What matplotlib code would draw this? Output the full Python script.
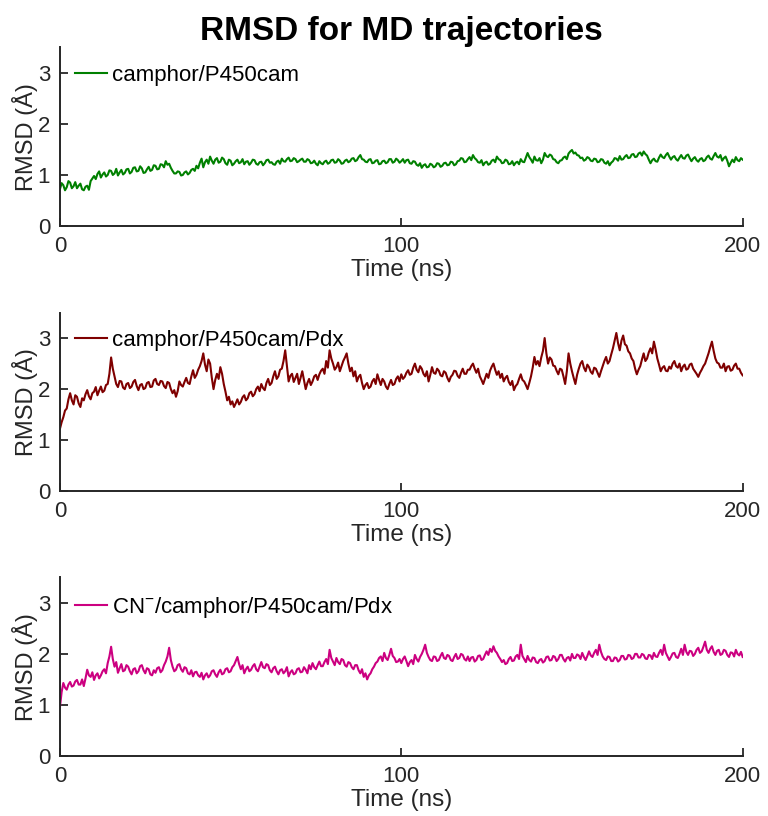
import numpy as np
import matplotlib
matplotlib.use("Agg")
import matplotlib.pyplot as plt

plt.rcParams['font.family'] = ['Liberation Sans', 'DejaVu Sans']
plt.rcParams['mathtext.fontset'] = 'custom'
plt.rcParams['mathtext.rm'] = 'Liberation Sans'
plt.rcParams['mathtext.default'] = 'regular'

# RMSD values (Angstrom), two samples per ns
rmsd_p450 = [
    0.72, 0.84, 0.80, 0.70, 0.76, 0.88, 0.85, 0.74, 0.78, 0.86,
    0.74, 0.79, 0.83, 0.72, 0.70, 0.77, 0.79, 0.71, 0.88, 0.93,
    0.98, 0.92, 1.02, 1.07, 0.95, 1.01, 1.05, 0.97, 1.00, 1.09,
    1.08, 1.00, 1.03, 1.12, 0.99, 1.05, 1.10, 1.01, 1.04, 1.11,
    1.12, 1.03, 1.06, 1.14, 1.15, 1.07, 1.08, 1.17, 1.13, 1.04,
    1.05, 1.11, 1.16, 1.08, 1.10, 1.19, 1.18, 1.11, 1.12, 1.21,
    1.20, 1.15, 1.27, 1.20, 1.22, 1.14, 1.08, 1.03, 1.03, 1.07,
    1.06, 0.99, 1.00, 1.05, 1.07, 1.01, 1.04, 1.10, 1.12, 1.08,
    1.18, 1.13, 1.24, 1.32, 1.15, 1.25, 1.30, 1.22, 1.36, 1.28,
    1.22, 1.30, 1.33, 1.24, 1.26, 1.34, 1.31, 1.23, 1.20, 1.30,
    1.28, 1.19, 1.22, 1.27, 1.30, 1.23, 1.25, 1.31, 1.21, 1.26,
    1.27, 1.20, 1.24, 1.30, 1.29, 1.22, 1.20, 1.25, 1.26, 1.19,
    1.23, 1.29, 1.30, 1.24, 1.25, 1.21, 1.20, 1.26, 1.28, 1.22,
    1.32, 1.27, 1.26, 1.31, 1.34, 1.27, 1.28, 1.33, 1.31, 1.25,
    1.27, 1.30, 1.32, 1.26, 1.26, 1.31, 1.29, 1.23, 1.24, 1.28,
    1.22, 1.19, 1.27, 1.23, 1.21, 1.26, 1.28, 1.22, 1.24, 1.29,
    1.30, 1.24, 1.25, 1.31, 1.28, 1.22, 1.23, 1.28, 1.30, 1.25,
    1.27, 1.32, 1.33, 1.27, 1.29, 1.35, 1.39, 1.31, 1.30, 1.26,
    1.25, 1.30, 1.31, 1.23, 1.24, 1.28, 1.29, 1.21, 1.22, 1.27,
    1.28, 1.23, 1.25, 1.31, 1.31, 1.24, 1.26, 1.32, 1.29, 1.24,
    1.27, 1.31, 1.24, 1.29, 1.30, 1.23, 1.22, 1.27, 1.26, 1.20,
    1.18, 1.23, 1.14, 1.19, 1.21, 1.15, 1.16, 1.22, 1.20, 1.15,
    1.17, 1.23, 1.22, 1.16, 1.18, 1.23, 1.24, 1.19, 1.20, 1.26,
    1.25, 1.19, 1.21, 1.27, 1.28, 1.33, 1.32, 1.25, 1.26, 1.31,
    1.35, 1.29, 1.39, 1.33, 1.30, 1.25, 1.24, 1.29, 1.19, 1.24,
    1.26, 1.20, 1.22, 1.28, 1.30, 1.25, 1.36, 1.31, 1.29, 1.23,
    1.24, 1.30, 1.28, 1.21, 1.22, 1.27, 1.19, 1.24, 1.26, 1.21,
    1.31, 1.26, 1.25, 1.34, 1.43, 1.35, 1.30, 1.24, 1.36, 1.29,
    1.28, 1.33, 1.23, 1.30, 1.43, 1.37, 1.35, 1.40, 1.38, 1.31,
    1.30, 1.25, 1.23, 1.28, 1.29, 1.34, 1.36, 1.31, 1.42, 1.46,
    1.49, 1.42, 1.44, 1.39, 1.38, 1.33, 1.34, 1.28, 1.30, 1.35,
    1.33, 1.28, 1.27, 1.32, 1.31, 1.25, 1.26, 1.31, 1.30, 1.24,
    1.22, 1.27, 1.19, 1.24, 1.27, 1.33, 1.32, 1.28, 1.37, 1.30,
    1.31, 1.36, 1.39, 1.33, 1.34, 1.40, 1.41, 1.35, 1.36, 1.42,
    1.44, 1.38, 1.46, 1.41, 1.38, 1.30, 1.23, 1.29, 1.32, 1.27,
    1.26, 1.34, 1.40, 1.35, 1.33, 1.39, 1.43, 1.36, 1.30, 1.35,
    1.37, 1.31, 1.28, 1.34, 1.39, 1.33, 1.32, 1.38, 1.40, 1.33,
    1.27, 1.32, 1.35, 1.29, 1.26, 1.31, 1.33, 1.27, 1.29, 1.35,
    1.38, 1.32, 1.30, 1.37, 1.43, 1.36, 1.34, 1.39, 1.28, 1.33,
    1.36, 1.28, 1.17, 1.24, 1.30, 1.25, 1.35, 1.29, 1.27, 1.33,
    1.30,
]

rmsd_pdx = [
    1.22, 1.35, 1.45, 1.58, 1.62, 1.80, 1.92, 1.78, 1.70, 1.88,
    1.85, 1.72, 1.65, 1.82, 1.78, 1.90, 1.98, 1.86, 1.80, 1.92,
    1.95, 2.04, 1.88, 1.97, 2.05, 1.94, 1.97, 2.08, 2.10, 2.30,
    2.62, 2.40, 2.25, 2.10, 2.04, 2.16, 2.15, 2.03, 2.00, 2.10,
    2.12, 2.02, 2.05, 2.14, 2.18, 2.06, 1.98, 2.08, 2.10, 2.00,
    2.02, 2.12, 2.14, 2.04, 2.05, 2.17, 2.20, 2.10, 2.08, 2.16,
    2.15, 2.06, 2.02, 2.14, 2.12, 2.00, 1.92, 1.98, 1.85, 1.96,
    2.15, 2.08, 2.05, 2.14, 2.22, 2.12, 2.10, 2.25, 2.37, 2.22,
    2.28, 2.38, 2.45, 2.55, 2.70, 2.48, 2.35, 2.58, 2.50, 2.22,
    2.00, 2.18, 2.30, 2.20, 2.43, 2.30, 2.10, 1.95, 1.78, 1.85,
    1.70, 1.76, 1.65, 1.72, 1.80, 1.70, 1.75, 1.84, 1.88, 1.78,
    1.82, 1.92, 1.95, 1.86, 1.90, 2.00, 2.05, 1.96, 2.10, 2.02,
    1.98, 2.12, 2.20, 2.08, 2.12, 2.25, 2.35, 2.20, 2.25, 2.38,
    2.40, 2.55, 2.76, 2.45, 2.15, 2.26, 2.30, 2.14, 2.22, 2.30,
    2.10, 2.22, 2.35, 2.18, 2.00, 2.12, 2.20, 2.08, 2.15, 2.25,
    2.28, 2.18, 2.29, 2.36, 2.40, 2.30, 2.55, 2.42, 2.76, 2.60,
    2.50, 2.38, 2.43, 2.52, 2.35, 2.45, 2.55, 2.62, 2.70, 2.50,
    2.35, 2.42, 2.25, 2.35, 2.15, 2.24, 2.28, 2.12, 2.00, 2.08,
    2.12, 2.02, 2.05, 2.15, 2.20, 2.10, 2.29, 2.18, 2.08, 2.20,
    2.15, 2.05, 2.00, 2.10, 2.18, 2.08, 2.10, 2.20, 2.25, 2.15,
    2.29, 2.20, 2.24, 2.32, 2.37, 2.28, 2.30, 2.42, 2.50, 2.38,
    2.33, 2.45, 2.40, 2.30, 2.25, 2.35, 2.15, 2.28, 2.43, 2.32,
    2.30, 2.40, 2.36, 2.27, 2.25, 2.35, 2.32, 2.22, 2.15, 2.24,
    2.28, 2.36, 2.35, 2.26, 2.22, 2.32, 2.40, 2.30, 2.30, 2.38,
    2.38, 2.45, 2.50, 2.40, 2.32, 2.40, 2.25, 2.18, 2.10, 2.20,
    2.30, 2.22, 2.36, 2.44, 2.50, 2.38, 2.28, 2.35, 2.22, 2.30,
    2.15, 2.22, 2.26, 2.14, 2.08, 2.16, 1.98, 2.06, 2.10, 2.20,
    2.29, 2.18, 2.15, 2.08, 2.00, 2.12, 2.25, 2.42, 2.63, 2.48,
    2.55, 2.45, 2.62, 2.75, 3.00, 2.70, 2.50, 2.62, 2.58, 2.46,
    2.45, 2.36, 2.29, 2.40, 2.38, 2.25, 2.10, 2.35, 2.70, 2.50,
    2.35, 2.22, 2.10, 2.28, 2.40, 2.50, 2.55, 2.42, 2.35, 2.48,
    2.43, 2.34, 2.30, 2.42, 2.40, 2.32, 2.24, 2.35, 2.45, 2.55,
    2.63, 2.50, 2.55, 2.68, 2.80, 2.95, 3.10, 2.90, 2.76, 2.95,
    3.05, 2.88, 2.85, 2.74, 2.70, 2.60, 2.55, 2.40, 2.29, 2.38,
    2.45, 2.58, 2.70, 2.55, 2.60, 2.72, 2.80, 2.70, 2.93, 2.78,
    2.60, 2.48, 2.35, 2.42, 2.45, 2.36, 2.35, 2.44, 2.40, 2.50,
    2.55, 2.45, 2.42, 2.50, 2.35, 2.44, 2.48, 2.38, 2.40, 2.48,
    2.50, 2.40, 2.35, 2.30, 2.24, 2.32, 2.38, 2.45, 2.50, 2.60,
    2.70, 2.82, 2.93, 2.75, 2.60, 2.52, 2.50, 2.42, 2.42, 2.50,
    2.35, 2.44, 2.45, 2.36, 2.38, 2.46, 2.50, 2.40, 2.40, 2.32,
    2.27,
]

rmsd_cn = [
    0.95, 1.25, 1.43, 1.34, 1.30, 1.40, 1.45, 1.36, 1.38, 1.46,
    1.49, 1.40, 1.40, 1.50, 1.37, 1.52, 1.69, 1.58, 1.55, 1.64,
    1.49, 1.58, 1.62, 1.52, 1.58, 1.66, 1.70, 1.62, 1.82, 1.95,
    2.14, 1.90, 1.75, 1.84, 1.63, 1.72, 1.80, 1.66, 1.68, 1.78,
    1.75, 1.66, 1.60, 1.70, 1.72, 1.62, 1.66, 1.76, 1.78, 1.68,
    1.62, 1.72, 1.70, 1.60, 1.58, 1.68, 1.63, 1.72, 1.74, 1.64,
    1.68, 1.78, 1.85, 1.95, 2.12, 1.88, 1.75, 1.66, 1.69, 1.78,
    1.80, 1.70, 1.65, 1.74, 1.72, 1.62, 1.60, 1.68, 1.56, 1.64,
    1.65, 1.58, 1.55, 1.63, 1.50, 1.58, 1.62, 1.54, 1.58, 1.66,
    1.68, 1.60, 1.55, 1.64, 1.69, 1.60, 1.62, 1.70, 1.72, 1.64,
    1.66, 1.74, 1.78, 1.86, 1.94, 1.80, 1.70, 1.78, 1.62, 1.70,
    1.75, 1.66, 1.69, 1.76, 1.80, 1.70, 1.66, 1.75, 1.84, 1.74,
    1.72, 1.80, 1.78, 1.68, 1.64, 1.72, 1.75, 1.66, 1.60, 1.68,
    1.70, 1.62, 1.66, 1.74, 1.56, 1.64, 1.68, 1.60, 1.62, 1.70,
    1.72, 1.64, 1.65, 1.74, 1.69, 1.62, 1.78, 1.70, 1.82, 1.74,
    1.70, 1.78, 1.85, 1.76, 1.76, 1.84, 1.90, 1.80, 2.08, 1.92,
    1.85, 1.78, 1.92, 1.84, 1.80, 1.90, 1.88, 1.78, 1.75, 1.84,
    1.82, 1.74, 1.70, 1.78, 1.78, 1.68, 1.62, 1.70, 1.55, 1.62,
    1.50, 1.58, 1.62, 1.70, 1.75, 1.82, 1.85, 1.92, 1.95, 1.86,
    2.02, 1.92, 1.88, 1.98, 2.10, 1.96, 1.92, 1.84, 1.85, 1.90,
    1.82, 1.90, 1.95, 1.86, 1.76, 1.84, 1.88, 1.80, 1.98, 1.90,
    1.85, 1.94, 2.00, 2.08, 2.18, 2.02, 1.94, 1.88, 1.86, 1.95,
    1.94, 1.86, 1.88, 1.96, 2.02, 1.92, 1.90, 1.98, 1.96, 1.88,
    1.86, 1.94, 2.00, 1.90, 1.92, 2.00, 1.98, 1.90, 1.87, 1.95,
    1.86, 1.93, 1.94, 1.85, 1.88, 1.96, 1.97, 1.88, 1.90, 1.98,
    2.05, 1.98, 2.10, 2.04, 2.15, 2.06, 2.02, 1.95, 1.90, 1.84,
    1.88, 1.80, 1.82, 1.90, 1.94, 1.86, 1.87, 1.95, 1.98, 1.90,
    2.18, 1.96, 1.90, 1.84, 1.96, 1.88, 1.85, 1.93, 1.92, 1.84,
    1.82, 1.88, 1.90, 1.83, 1.86, 1.94, 1.95, 1.87, 1.88, 1.96,
    1.94, 1.86, 1.90, 1.98, 1.98, 1.90, 1.85, 1.92, 1.94, 1.87,
    2.00, 1.92, 1.92, 1.99, 1.97, 1.90, 2.02, 1.94, 1.88, 1.96,
    2.05, 1.97, 1.94, 2.02, 2.08, 1.98, 2.18, 2.04, 1.95, 1.90,
    1.88, 1.95, 1.94, 1.86, 1.86, 1.93, 1.92, 1.85, 1.88, 1.96,
    1.96, 1.89, 1.90, 1.98, 1.97, 1.90, 1.92, 2.00, 2.00, 1.93,
    1.93, 2.00, 1.98, 1.91, 1.90, 1.98, 1.97, 1.90, 2.02, 1.95,
    1.94, 2.02, 2.08, 1.98, 2.18, 2.02, 1.95, 1.88, 1.94, 2.01,
    2.02, 1.94, 1.92, 2.00, 2.10, 1.98, 2.18, 2.04, 1.98, 2.06,
    2.05, 1.96, 2.00, 2.08, 2.12, 2.02, 2.05, 2.14, 2.24, 2.08,
    2.02, 2.10, 2.15, 2.04, 1.98, 2.06, 2.08, 1.98, 2.00, 2.08,
    2.06, 1.98, 1.94, 2.03, 2.02, 1.95, 2.08, 2.00, 1.97, 2.04,
    1.94,
]

labels = ['camphor/P450cam', 'camphor/P450cam/Pdx', r'CN$^{-}$/camphor/P450cam/Pdx']
colors = ['#008000', '#7f0000', '#cc0080']
series = [rmsd_p450, rmsd_pdx, rmsd_cn]

fig = plt.figure(figsize=(7.68, 8.16), dpi=100)
fig.text(401.5 / 768, 1 - 40 / 816, 'RMSD for MD trajectories', fontsize=24,
         fontweight='bold', ha='center', va='baseline')

bottoms = [0.723, 0.398, 0.0735]
dark = '#262626'
for bottom, vals, lab, col in zip(bottoms, series, labels, colors):
    ax = fig.add_axes([0.078, bottom, 0.889, 0.219])
    t = np.linspace(0, 200, len(vals))
    ax.plot(t, vals, color=col, lw=1.5, label=lab)
    ax.set_xlim(0, 200)
    ax.set_ylim(0, 3.5)
    ax.set_xticks([0, 100, 200])
    ax.set_yticks([0, 1, 2, 3])
    ax.set_xlabel('Time (ns)', fontsize=17.5, color=dark, labelpad=1.5)
    ax.set_ylabel('RMSD (Å)', fontsize=17, color=dark, labelpad=0)
    ax.tick_params(direction='in', length=5.5, width=1.3, labelsize=16,
                   colors=dark, pad=7)
    for s in ['top', 'right']:
        ax.spines[s].set_visible(False)
    for s in ['left', 'bottom']:
        ax.spines[s].set_linewidth(1.4)
        ax.spines[s].set_color(dark)
    ax.legend(loc='upper left', bbox_to_anchor=(0.022, 0.902), frameon=False,
              fontsize=16, handlelength=1.44, handletextpad=0.22,
              borderpad=0, borderaxespad=0)

fig.savefig('out.png', dpi=100)
